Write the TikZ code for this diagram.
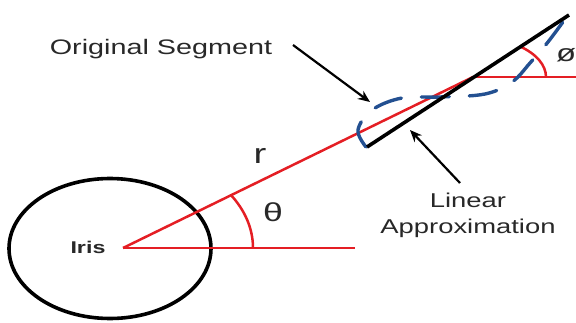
\documentclass[tikz,border=0pt]{standalone}
\usepackage{fontspec}
\setmainfont{Liberation Sans}
\usepackage{xcolor}
\usetikzlibrary{arrows.meta, shapes.geometric}

\definecolor{rayred}{RGB}{228,30,36}
\definecolor{segblue}{RGB}{35,80,145}
\definecolor{inkgray}{RGB}{40,40,40}
\newcommand{\wide}[1]{\scalebox{1.37}[1]{#1}}

\begin{document}
\begin{tikzpicture}[x=1pt, y=1pt,
        ray/.style={draw=rayred, line width=2.5pt},
        segline/.style={draw=black, line width=3.6pt},
        outline/.style={draw=segblue, line width=3.4pt, line cap=round, dash pattern=on 28pt off 20pt},
        pointer/.style={-{Stealth[length=12pt, width=10pt]}, line width=2.2pt},
        lbl/.style={inner sep=0pt, text=inkgray, font=\fontsize{20}{26}\selectfont}
    ]
    \useasboundingbox (0,0) rectangle (576,322);

    \node[ellipse, draw, line width=3.6pt, minimum width=202pt, minimum height=140pt, inner sep=0pt] (eye) at (110,73.5) {};
    \coordinate (iris) at (123,74);
    \coordinate (cross) at (473,245);
    \coordinate (segA) at (367,175);
    \coordinate (segB) at (569,307);
    \coordinate (thetaend) at (355,74);
    \coordinate (phiend) at (576,245);

    % rays and angles
    \draw[ray] (iris) -- (thetaend);
    \draw[ray] (iris) -- (cross);
    \draw[ray] (cross) -- (phiend);
    \draw[ray] ([xshift=130pt]iris) arc[start angle=0, end angle=34, x radius=130, y radius=95];
    \draw[ray] ([xshift=73pt]cross) arc[start angle=0, end angle=50, x radius=73, y radius=40];

    % original boundary and its fit
    \draw[outline] plot[smooth, tension=0.6] coordinates {(366,175) (358,192) (372,212) (402,224) (440,225) (485,228) (512,240) (530,259) (548,280) (568,307)};
    \draw[segline] (segA) -- (segB);

    \node[lbl, font=\fontsize{21}{25}\selectfont, anchor=base] (origlabel) at (161,267) {\wide{Original Segment}};
    \node[lbl, align=center] (linlabel) at (468,107) {\wide{Linear}\\\wide{Approximation}};
    \node[lbl, font=\bfseries\fontsize{17}{20}\selectfont, anchor=base] (irislabel) at (88,69) {\wide{Iris}};
    \node[lbl, font=\fontsize{28}{32}\selectfont, anchor=base] (rlabel) at (260,159) {\wide{r}};
    \node[lbl, font=\fontsize{26}{30}\selectfont] (thetalabel) at (273,110) {\wide{θ}};
    \node[lbl, font=\fontsize{24}{28}\selectfont, anchor=base west] (philabel) at (556,260) {\wide{ø}};

    \coordinate (origtail) at (293,277);
    \coordinate (origtip) at (370,220);
    \coordinate (lintail) at (460,139);
    \coordinate (lintip) at (410,192);
    \draw[pointer] (origtail) -- (origtip);
    \draw[pointer] (lintail) -- (lintip);
\end{tikzpicture}
\end{document}
